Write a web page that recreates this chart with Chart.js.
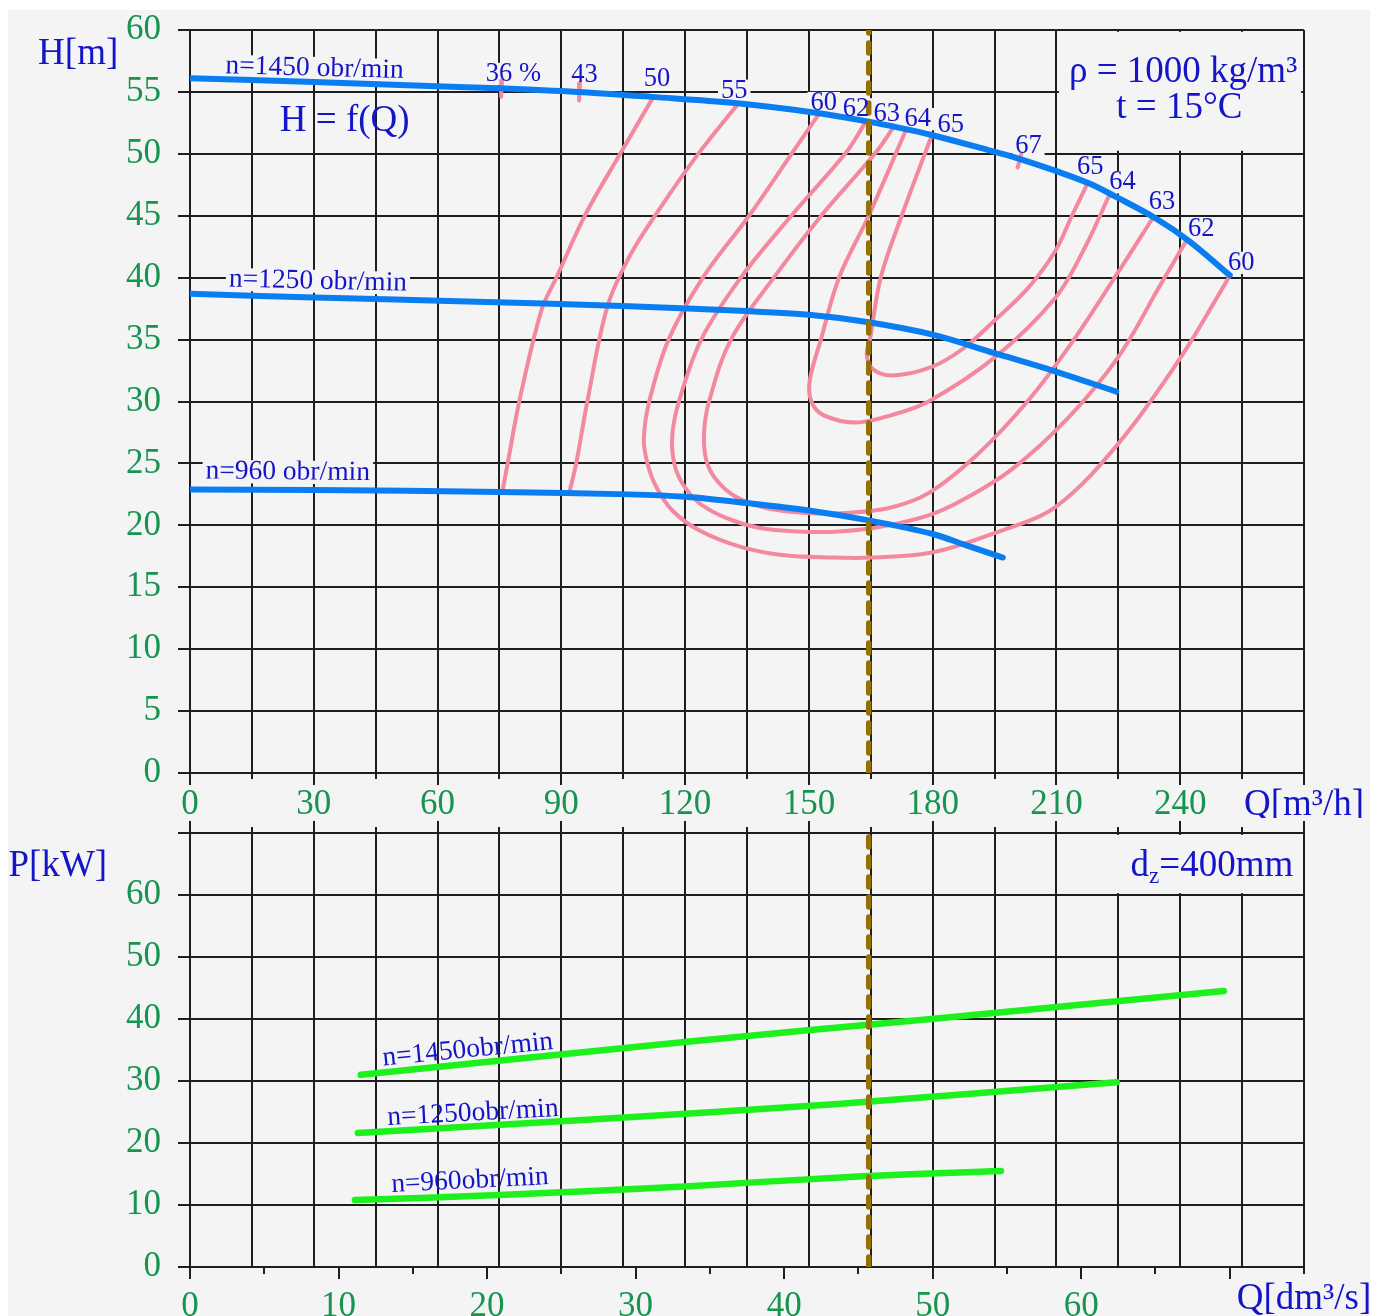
<!DOCTYPE html>
<html>
<head>
<meta charset="utf-8">
<script src="https://cdn.jsdelivr.net/npm/chart.js@4.4.0/dist/chart.umd.min.js"></script>
<style>
  body { margin: 0; background: #fff; }
  #sheet { position: absolute; left: 8px; top: 10px; width: 1362px; height: 1306px; background: #f4f4f4; }
  #hq { position: absolute; left: 0; top: 0; }
  #pq { position: absolute; left: 0; top: 818px; }
</style>
</head>
<body>
<div id="sheet"></div>
<canvas id="hq" width="1383" height="818"></canvas>
<canvas id="pq" width="1383" height="498"></canvas>
<script>
// operating point (m3/h)
const qOp = 164.5;

// H = f(Q) curves, Q in m3/h, H in m
const q1450 = [0, 30, 65, 75, 94, 112, 132, 152, 164.5, 172, 180, 193.5, 201, 210, 218, 224, 234, 242, 252];
const h1450 = [56.1, 55.8, 55.4, 55.3, 55.0, 54.6, 54.1, 53.3, 52.6, 52.1, 51.5, 50.3, 49.6, 48.6, 47.6, 46.6, 44.8, 43.0, 40.2];
const q1250 = [0, 30, 65, 106.5, 134.8, 150, 164.5, 180, 195, 210, 224.5];
const h1250 = [38.7, 38.4, 38.1, 37.7, 37.3, 37.0, 36.4, 35.4, 33.9, 32.4, 30.8];
const q960 = [0, 30, 75, 106.5, 120, 135, 150, 164.5, 180, 188, 197];
const h960 = [22.9, 22.85, 22.7, 22.5, 22.3, 21.8, 21.2, 20.4, 19.3, 18.4, 17.4];

// efficiency lines (%)
const eta36Q = [75.6, 75.4];
const eta36H = [55.9, 54.6];
const eta43Q = [94.5, 94.3];
const eta43H = [55.7, 54.3];
const eta67Q = [201.5, 200.6];
const eta67H = [50.0, 48.9];
const eta50Q = [112.3, 104.8, 96.0, 88.8, 85.2, 79.8, 77.0, 75.7];
const eta50H = [54.6, 50.3, 45.2, 40.0, 37.4, 30.0, 25.0, 22.7];
const eta55Q = [133.0, 123.4, 113.7, 106.5, 101.1, 96.3, 93.6, 91.9];
const eta55H = [54.1, 50.1, 45.5, 41.7, 37.6, 30.0, 25.0, 22.6];
const eta60Q = [152.4, 146.0, 135.5, 124.3, 116.0, 111.3, 110.0, 110.8, 113.0, 116.9, 123.4, 133.1, 143.5, 155.6, 165.2, 179.8, 195.2, 209.8, 225.0, 240.2, 252.1];
const eta60H = [53.2, 50.1, 45.0, 40.0, 35.0, 30.0, 27.0, 25.1, 23.1, 21.2, 19.6, 18.3, 17.6, 17.4, 17.4, 17.8, 19.4, 21.5, 26.6, 33.6, 40.2];
const eta62Q = [163.8, 159.0, 146.0, 133.5, 123.9, 118.5, 116.9, 117.3, 119.3, 123.4, 129.9, 137.9, 147.6, 157.3, 167.7, 179.0, 187.0, 199.1, 212.9, 225.0, 235.0, 241.5];
const eta62H = [52.6, 50.1, 45.1, 40.0, 35.0, 30.0, 27.3, 25.1, 23.4, 21.8, 20.6, 19.8, 19.5, 19.5, 19.9, 20.8, 22.0, 24.5, 28.7, 33.6, 39.3, 43.0];
const eta63Q = [170.6, 166.2, 153.0, 141.5, 131.1, 125.8, 124.6, 125.1, 127.5, 132.3, 139.6, 149.3, 159.0, 169.4, 179.0, 191.1, 203.2, 213.6, 224.3, 233.5];
const eta63H = [52.2, 50.1, 45.0, 40.0, 35.0, 30.0, 27.5, 25.3, 23.7, 22.3, 21.4, 21.0, 21.0, 21.4, 22.6, 25.8, 30.1, 34.7, 40.1, 44.9];
const eta64Q = [173.5, 164.5, 157.3, 152.9, 150.2, 150.6, 153.5, 161.4, 170.0, 179.0, 195.2, 209.8, 217.0, 223.0];
const eta64H = [51.9, 45.0, 40.0, 35.0, 31.7, 30.0, 28.9, 28.3, 28.9, 30.0, 33.6, 38.4, 42.5, 46.8];
const eta65Q = [179.8, 172.5, 167.4, 164.8, 164.0, 165.2, 170.0, 179.8, 187.5, 195.2, 203.2, 209.8, 213.6, 217.5];
const eta65H = [51.5, 45.0, 40.0, 35.0, 33.9, 32.7, 32.1, 32.8, 34.3, 36.6, 39.2, 42.2, 44.9, 47.6];

// P = f(Q) lines, Q in dm3/s, P in kW
const pq1450 = [11.5, 33.3, 49.9, 69.6];
const pp1450 = [31.0, 36.3, 40.0, 44.5];
const pq1250 = [11.3, 27.0, 43.6, 62.4];
const pp1250 = [21.6, 23.8, 26.3, 29.8];
const pq960 = [11.1, 20.8, 33.3, 45.0, 54.6];
const pp960 = [10.8, 11.6, 13.0, 14.6, 15.5];

const SERIF = "'Liberation Serif', 'Times New Roman', serif";
const BG = '#f4f4f4';
const GRID = '#1e1e1e';
const GREEN_TXT = '#169450';
const BLUE_TXT = '#1414c8';
const BLUE = '#0a7df0';
const PINK = '#f3889f';
const LIME = '#1ef01e';
const BROWN = '#957004';

function curve(qs, vs, color, width, order, tension) {
    return {
        data: qs.map((q, i) => ({ x: q, y: vs[i] })),
        showLine: true,
        borderColor: color,
        borderWidth: width,
        pointRadius: 0,
        tension: tension === undefined ? 0.35 : tension,
        borderCapStyle: 'round',
        borderJoinStyle: 'round',
        order: order
    };
}

function opLine(x, yMax) {
    return {
        data: [{ x: x, y: 0 }, { x: x, y: yMax }],
        showLine: true,
        borderColor: BROWN,
        borderWidth: 5.5,
        borderDash: [10, 10],
        borderCapStyle: 'round',
        pointRadius: 0,
        order: 0
    };
}

function alignPx(p) {
    return Math.round(p - 1) + 1;
}

// labels, boxes over the grid and custom tick marks
const decor = {
    id: 'decor',
    beforeDatasetsDraw(chart, args, opts) {
        const ctx = chart.ctx;
        const xs = chart.scales[opts.xId], ys = chart.scales.y;
        ctx.save();
        ctx.fillStyle = BG;
        (opts.boxes || []).forEach(b => {
            const x1 = xs.getPixelForValue(b.x0), x2 = xs.getPixelForValue(b.x1);
            const y1 = ys.getPixelForValue(b.y1), y2 = ys.getPixelForValue(b.y0);
            ctx.fillRect(x1, y1, x2 - x1, y2 - y1);
        });
        opts.labels.filter(l => l.box).forEach(l => {
            ctx.font = l.size + 'px ' + SERIF;
            const w = ctx.measureText(l.text).width;
            ctx.save();
            ctx.translate(xs.getPixelForValue(l.x), ys.getPixelForValue(l.y));
            ctx.rotate((l.rot || 0) * Math.PI / 180);
            ctx.fillRect(-w / 2 - 3, -l.size * 0.42, w + 6, l.size * 0.84);
            ctx.restore();
        });
        ctx.strokeStyle = GRID;
        ctx.lineWidth = 2;
        opts.ticks.forEach(t => {
            const sc = chart.scales[t.scale];
            const edge = t.side === 'top' ? chart.chartArea.top : chart.chartArea.bottom;
            const dir = t.side === 'top' ? -1 : 1;
            for (let v = sc.min; v <= sc.max + 1e-6; v += t.step) {
                const len = Math.round(v) % t.major === 0 ? t.long : t.short;
                const px = alignPx(sc.getPixelForValue(v));
                ctx.beginPath();
                ctx.moveTo(px, edge);
                ctx.lineTo(px, edge + dir * len);
                ctx.stroke();
            }
        });
        ctx.restore();
    },
    afterDatasetsDraw(chart, args, opts) {
        const ctx = chart.ctx;
        const xs = chart.scales[opts.xId], ys = chart.scales.y;
        ctx.save();
        ctx.fillStyle = BLUE_TXT;
        ctx.textBaseline = 'middle';
        opts.labels.forEach(l => {
            ctx.save();
            ctx.translate(xs.getPixelForValue(l.x), ys.getPixelForValue(l.y));
            ctx.rotate((l.rot || 0) * Math.PI / 180);
            const big = l.size + 'px ' + SERIF;
            const small = Math.round(l.size * 0.62) + 'px ' + SERIF;
            if (l.sub) {
                ctx.textAlign = 'left';
                ctx.font = big;
                const w1 = ctx.measureText(l.text).width;
                const w3 = ctx.measureText(l.after).width;
                ctx.font = small;
                const w2 = ctx.measureText(l.sub).width;
                let x = -(w1 + w2 + w3) / 2;
                ctx.font = big;
                ctx.fillText(l.text, x, 0);
                x += w1;
                ctx.font = small;
                ctx.fillText(l.sub, x, l.size * 0.3);
                x += w2;
                ctx.font = big;
                ctx.fillText(l.after, x, 0);
            } else {
                ctx.textAlign = 'center';
                ctx.font = big;
                ctx.fillText(l.text, 0, 0);
            }
            ctx.restore();
        });
        ctx.restore();
    }
};

const tickFont = { family: SERIF, size: 35 };

function fixY(s) {
    s.width = 190;
    s.paddingTop = 0;
    s.paddingBottom = 0;
}

function fixX(h) {
    return s => {
        s.height = h;
        s.paddingLeft = 0;
        s.paddingRight = 0;
    };
}

new Chart(document.getElementById('hq'), {
    type: 'scatter',
    data: {
        datasets: [
            opLine(qOp, 60),
            curve(q1450, h1450, BLUE, 6, 1),
            curve(q1250, h1250, BLUE, 6, 1),
            curve(q960, h960, BLUE, 6, 1),
            curve(eta36Q, eta36H, PINK, 4, 2, 0),
            curve(eta43Q, eta43H, PINK, 4, 2, 0),
            curve(eta67Q, eta67H, PINK, 4, 2, 0),
            curve(eta50Q, eta50H, PINK, 4, 2),
            curve(eta55Q, eta55H, PINK, 4, 2),
            curve(eta60Q, eta60H, PINK, 4, 2),
            curve(eta62Q, eta62H, PINK, 4, 2),
            curve(eta63Q, eta63H, PINK, 4, 2),
            curve(eta64Q, eta64H, PINK, 4, 2),
            curve(eta65Q, eta65H, PINK, 4, 2)
        ]
    },
    options: {
        responsive: false,
        animation: false,
        layout: { padding: { top: 30, right: 79, bottom: 0, left: 0 } },
        plugins: {
            legend: { display: false },
            tooltip: { enabled: false },
            decor: {
                xId: 'x',
                boxes: [{ x0: 210.6, x1: 269.3, y0: 50.25, y1: 59.85 }],
                ticks: [{ scale: 'x', step: 15, major: 30, side: 'bottom', long: 12, short: 6 }],
                labels: [
                    { text: 'H[m]', x: -27.1, y: 58.0, size: 37 },
                    { text: 'n=1450 obr/min', x: 30.2, y: 56.9, size: 27.5, box: true, rot: 1.5 },
                    { text: 'H = f(Q)', x: 37.5, y: 52.6, size: 37 },
                    { text: 'n=1250 obr/min', x: 31, y: 39.7, size: 27.5, box: true, rot: 1.3 },
                    { text: 'n=960 obr/min', x: 23.7, y: 24.3, size: 27.5, box: true, rot: 0.5 },
                    { text: '36 %', x: 78.4, y: 56.45, size: 26.5, box: true },
                    { text: '43', x: 95.6, y: 56.4, size: 26.5, box: true },
                    { text: '50', x: 113.2, y: 56.0, size: 26.5, box: true },
                    { text: '55', x: 131.9, y: 55.1, size: 26.5, box: true },
                    { text: '60', x: 153.6, y: 54.1, size: 26.5, box: true },
                    { text: '62', x: 161.4, y: 53.6, size: 26.5, box: true },
                    { text: '63', x: 168.9, y: 53.2, size: 26.5, box: true },
                    { text: '64', x: 176.4, y: 52.8, size: 26.5, box: true },
                    { text: '65', x: 184.4, y: 52.3, size: 26.5, box: true },
                    { text: '67', x: 203.2, y: 50.6, size: 26.5, box: true },
                    { text: '65', x: 218.2, y: 48.9, size: 26.5, box: true },
                    { text: '64', x: 226.0, y: 47.7, size: 26.5, box: true },
                    { text: '63', x: 235.6, y: 46.1, size: 26.5, box: true },
                    { text: '62', x: 245.1, y: 43.9, size: 26.5, box: true },
                    { text: '60', x: 254.8, y: 41.2, size: 26.5, box: true },
                    { text: 'ρ = 1000 kg/m³', x: 240.7, y: 56.6, size: 37 },
                    { text: 't = 15°C', x: 239.8, y: 53.7, size: 37 },
                    { text: 'Q[m³/h]', x: 270, y: -2.6, size: 37 }
                ]
            }
        },
        scales: {
            x: {
                type: 'linear',
                min: 0,
                max: 270,
                afterFit: fixX(45),
                ticks: {
                    stepSize: 15,
                    autoSkip: false,
                    maxRotation: 0,
                    padding: 11,
                    color: GREEN_TXT,
                    font: tickFont,
                    callback: v => (v % 30 === 0 && v < 270) ? v : ''
                },
                grid: { color: GRID, lineWidth: 2, drawTicks: false },
                border: { color: GRID, width: 2 }
            },
            y: {
                min: 0,
                max: 60,
                afterFit: fixY,
                ticks: { stepSize: 5, padding: 17, color: GREEN_TXT, font: tickFont },
                grid: { color: GRID, lineWidth: 2, tickLength: 12 },
                border: { color: GRID, width: 2 }
            }
        }
    },
    plugins: [decor]
});

new Chart(document.getElementById('pq'), {
    type: 'scatter',
    data: {
        datasets: [
            opLine(qOp / 3.6, 70),
            curve(pq1450, pp1450, LIME, 6.5, 1),
            curve(pq1250, pp1250, LIME, 6.5, 1),
            curve(pq960, pp960, LIME, 6.5, 1)
        ]
    },
    options: {
        responsive: false,
        animation: false,
        layout: { padding: { top: 15, right: 79, bottom: 0, left: 0 } },
        plugins: {
            legend: { display: false },
            tooltip: { enabled: false },
            decor: {
                xId: 'x',
                boxes: [{ x0: 58.6, x1: 74.85, y0: 60.3, y1: 69.7 }],
                ticks: [
                    { scale: 'xq', step: 15, major: 30, side: 'top', long: 12, short: 6 },
                    { scale: 'x', step: 5, major: 10, side: 'bottom', long: 12, short: 7 }
                ],
                labels: [
                    { text: 'P[kW]', x: -8.9, y: 64.7, size: 37 },
                    { text: 'd', sub: 'z', after: '=400mm', x: 68.8, y: 64.7, size: 37 },
                    { text: 'n=1450obr/min', x: 18.7, y: 35.0, size: 27.5, rot: -5.6 },
                    { text: 'n=1250obr/min', x: 19.05, y: 24.8, size: 27.5, rot: -3 },
                    { text: 'n=960obr/min', x: 18.85, y: 13.9, size: 27.5, rot: -2.8 },
                    { text: 'Q[dm³/s]', x: 75, y: -5.2, size: 37 }
                ]
            }
        },
        scales: {
            x: {
                type: 'linear',
                min: 0,
                max: 75,
                afterFit: fixX(49),
                ticks: {
                    stepSize: 5,
                    autoSkip: false,
                    maxRotation: 0,
                    padding: 11,
                    color: GREEN_TXT,
                    font: tickFont,
                    callback: v => (v % 10 === 0 && v < 70) ? v : ''
                },
                grid: { display: false },
                border: { color: GRID, width: 2 }
            },
            xq: {
                type: 'linear',
                position: 'top',
                min: 0,
                max: 270,
                afterFit: fixX(0),
                ticks: { display: false, stepSize: 15 },
                grid: { color: GRID, lineWidth: 2, drawTicks: false },
                border: { display: false }
            },
            y: {
                min: 0,
                max: 70,
                afterFit: fixY,
                ticks: {
                    stepSize: 10,
                    padding: 17,
                    color: GREEN_TXT,
                    font: tickFont,
                    callback: v => v < 70 ? v : ''
                },
                grid: { color: GRID, lineWidth: 2, tickLength: 12 },
                border: { color: GRID, width: 2 }
            }
        }
    },
    plugins: [decor]
});
</script>
</body>
</html>
